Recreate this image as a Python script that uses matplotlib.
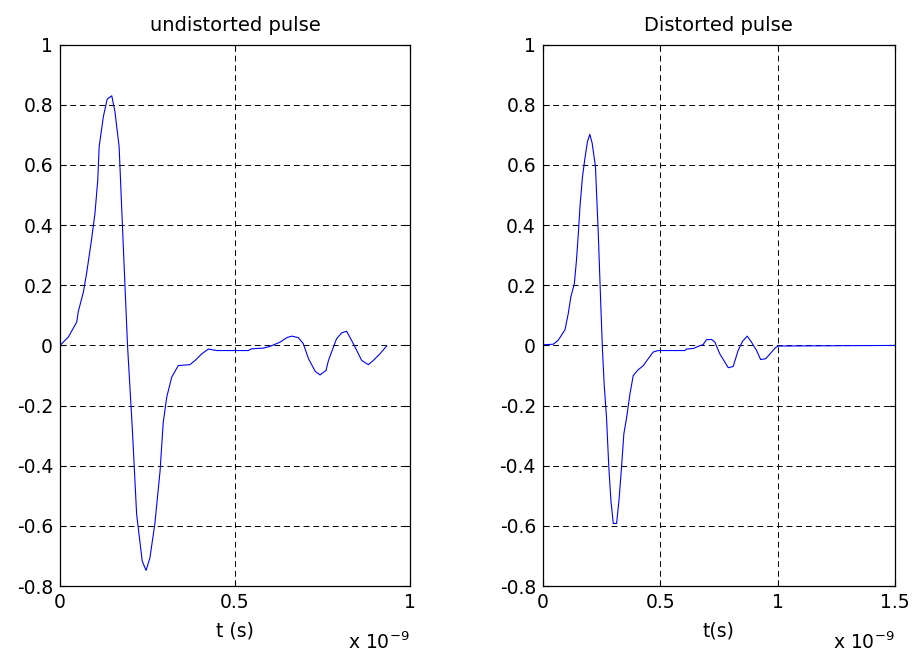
import matplotlib as mlp
mlp.use('Agg')
import matplotlib.pyplot as plt
from matplotlib.ticker import FuncFormatter

mlp.rcParams.update({'font.size': 13.5, 'font.family': ['DejaVu Sans'],
                     'mathtext.default': 'regular'})

# undistorted pulse, t in units of 1e-9 s
t1 = [0, 0.024, 0.048, 0.052, 0.067, 0.076, 0.090, 0.100, 0.108, 0.112, 0.124, 0.135,
      0.148, 0.157, 0.169, 0.181, 0.193, 0.207, 0.219, 0.235, 0.246, 0.257, 0.271,
      0.286, 0.295, 0.305, 0.319, 0.338, 0.371, 0.386, 0.405, 0.424, 0.448, 0.538,
      0.548, 0.581, 0.600, 0.629, 0.648, 0.662, 0.681, 0.695, 0.710, 0.729, 0.743,
      0.760, 0.767, 0.790, 0.805, 0.819, 0.838, 0.862, 0.881, 0.895, 0.914, 0.933]
v1 = [0, 0.028, 0.078, 0.111, 0.178, 0.239, 0.350, 0.439, 0.550, 0.661, 0.761, 0.819,
      0.830, 0.778, 0.661, 0.328, 0.0, -0.283, -0.561, -0.717, -0.748, -0.706, -0.594,
      -0.417, -0.256, -0.172, -0.106, -0.067, -0.064, -0.050, -0.028, -0.012, -0.017, -0.017,
      -0.011, -0.009, -0.003, 0.011, 0.026, 0.031, 0.026, 0.006, -0.044, -0.086, -0.098,
      -0.083, -0.050, 0.022, 0.042, 0.047, 0.006, -0.050, -0.064, -0.050, -0.028, -0.002]

# distorted pulse
t2 = [0, 0.044, 0.065, 0.094, 0.108, 0.119, 0.134, 0.143, 0.151, 0.158, 0.168, 0.179,
      0.190, 0.200, 0.210, 0.224, 0.236, 0.246, 0.254, 0.261, 0.271, 0.281, 0.290,
      0.300, 0.314, 0.324, 0.335, 0.345, 0.357, 0.371, 0.385, 0.406, 0.428, 0.449,
      0.470, 0.491, 0.605, 0.612, 0.641, 0.662, 0.683, 0.697, 0.719, 0.733, 0.754,
      0.790, 0.811, 0.832, 0.851, 0.871, 0.889, 0.911, 0.928, 0.950, 0.975, 0.989,
      1.003, 1.5]
v2 = [0.002, 0.004, 0.017, 0.052, 0.106, 0.161, 0.206, 0.283, 0.372, 0.461, 0.556, 0.622,
      0.678, 0.702, 0.672, 0.594, 0.372, 0.150, -0.017, -0.128, -0.239, -0.406, -0.517,
      -0.592, -0.592, -0.517, -0.406, -0.294, -0.239, -0.161, -0.100, -0.081, -0.067, -0.044,
      -0.022, -0.017, -0.017, -0.012, -0.010, -0.003, 0.003, 0.019, 0.020, 0.011, -0.028,
      -0.074, -0.070, -0.017, 0.014, 0.031, 0.011, -0.017, -0.047, -0.044, -0.022, -0.009,
      -0.002, 0.0]

titles = ['undistorted pulse', 'Distorted pulse']
xlabels = ['t (s)', 't(s)']
xlims = [1.0, 1.5]
yticks = [-0.8, -0.6, -0.4, -0.2, 0, 0.2, 0.4, 0.6, 0.8, 1]

fig = plt.figure(figsize=(9.14, 6.57), dpi=100)
pos = [[0.0656, 0.108, 0.383, 0.824], [0.594, 0.108, 0.385, 0.824]]
data = [(t1, v1), (t2, v2)]

fmt = FuncFormatter(lambda v, p: ('%g' % round(v, 6)).replace('\u2212', '-'))
fmtx = FuncFormatter(lambda v, p: '%g' % round(v / 1e-9, 6))

for i in range(2):
    ax = fig.add_axes(pos[i])
    t, v = data[i]
    ax.plot([x * 1e-9 for x in t], v, '-', color=(0, 0, 1), lw=0.8)
    ax.set_xlim(0, xlims[i] * 1e-9)
    ax.set_ylim(-0.8, 1)
    ax.set_yticks(yticks)
    ax.set_xticks([k * 0.5e-9 for k in range(int(xlims[i] / 0.5) + 1)])
    ax.xaxis.set_major_formatter(fmtx)
    ax.yaxis.set_major_formatter(fmt)
    ax.grid(True, color='black', linestyle=(0, (6, 4)), linewidth=0.7)
    ax.tick_params(direction='in', top=True, right=True, length=4, labelsize=13.5, pad=5)
    for s in ax.spines.values():
        s.set_linewidth(0.9)
    ax.set_title(titles[i], fontsize=14, pad=10)
    ax.set_xlabel(xlabels[i], fontsize=13.5, labelpad=7)
    ax.text(1.0, -0.117, 'x 10$^{-9}$', transform=ax.transAxes, ha='right', va='baseline',
            fontsize=13.5)

plt.savefig('out.png')
